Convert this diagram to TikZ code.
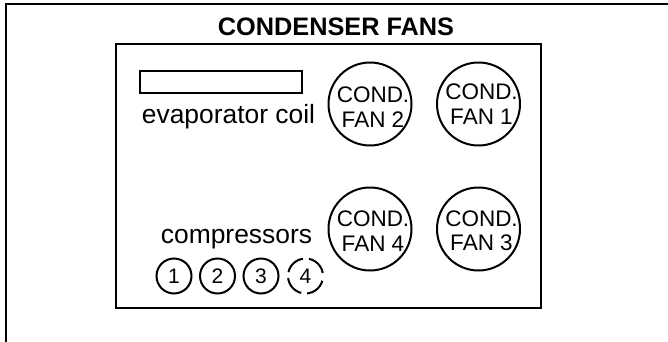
\documentclass[tikz,border=0pt]{standalone}
\usepackage{fontspec}
\setmainfont{Liberation Sans}
\begin{document}
\begin{tikzpicture}[x=1pt,y=-1pt,
  lw/.style={line width=2pt},
  fan/.style={lw,draw,circle,minimum size=83pt,inner sep=0pt},
  fantxt/.style={inner sep=0pt,align=center,font=\fontsize{22.5}{24.5}\selectfont},
  comp/.style={lw,draw,circle,minimum size=35pt,inner sep=0pt,
    font=\fontsize{21}{24}\selectfont},
  lbl/.style={inner sep=0pt,font=\fontsize{26.4}{30}\selectfont}]
\useasboundingbox (0,0) rectangle (668,342);
\clip (0,0) rectangle (668,342);
% outer frame (extends beyond the picture on right and bottom)
\draw[line width=2.4pt] (6,4) rectangle (700,380);
% title
\node[inner sep=0pt,font=\fontsize{25.3}{30}\bfseries\selectfont] (title) at (336,27) {CONDENSER FANS};
% inner box
\draw[lw] (116,44) rectangle (541,308);
% evaporator coil
\node[lw,draw,rectangle,minimum width=162pt,minimum height=22pt,inner sep=0pt] (coil) at (221,82) {};
\node[lbl,anchor=base] (coiltxt) at (228.5,123) {evaporator coil};
% fans
\node[fan] (fan2) at (370,104) {};
\node[fan] (fan1) at (478.5,104) {};
\node[fan] (fan4) at (370,229) {};
\node[fan] (fan3) at (478.5,229) {};
\node[fantxt] (fan2t) at ([shift={(3,3)}]fan2.center) {COND.\\FAN 2};
\node[fantxt] (fan1t) at ([shift={(3,0)}]fan1.center) {COND.\\FAN 1};
\node[fantxt] (fan4t) at ([shift={(3,2)}]fan4.center) {COND.\\FAN 4};
\node[fantxt] (fan3t) at ([shift={(3,2)}]fan3.center) {COND.\\FAN 3};
% compressors
\node[lbl,anchor=base] (comptxt) at (236.5,243) {compressors};
\node[comp] (c1) at (174,276) {1};
\node[comp] (c2) at (217.5,276) {2};
\node[comp] (c3) at (261,276) {3};
\node[comp,dash pattern=on 21pt off 6pt,dash phase=-3pt] (c4) at (305.5,276) {4};
\end{tikzpicture}
\end{document}
